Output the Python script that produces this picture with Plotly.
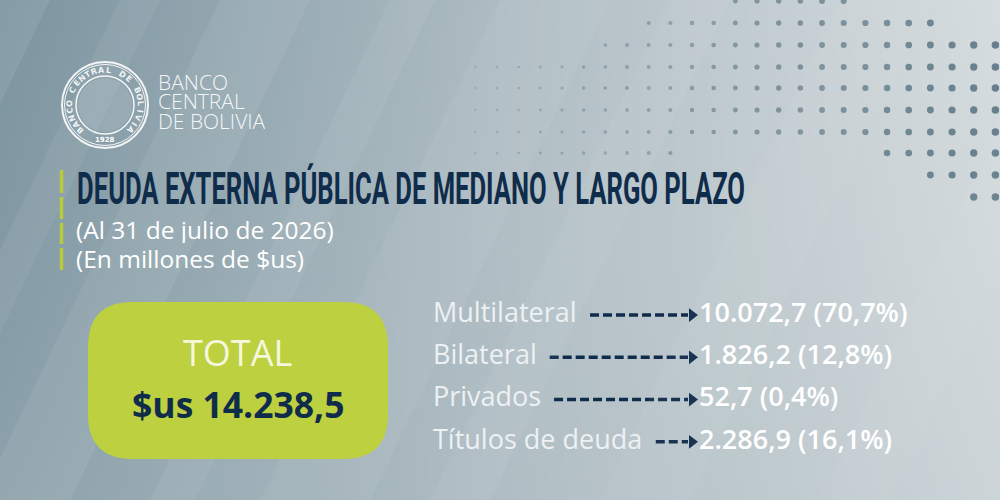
import math
import plotly.graph_objects as go

# ---- datos: deuda externa pública de mediano y largo plazo (millones de $us) ----
categorias = ["Multilateral", "Bilateral", "Privados", "Títulos de deuda"]
montos = [10072.7, 1826.2, 52.7, 2286.9]
participacion = [70.7, 12.8, 0.4, 16.1]
total = 14238.5

titulo = "DEUDA EXTERNA PÚBLICA DE MEDIANO Y LARGO PLAZO"
subtitulos = ["(Al 31 de julio de 2026)", "(En millones de $us)"]
banco = ["BANCO", "CENTRAL", "DE BOLIVIA"]
sello = "BANCO CENTRAL DE BOLIVIA"
sello_anio = "1928"

NAVY = "#0f2c4b"
LIME = "#bdd03f"
FONT = "Open Sans"
LIST_SIZE = 27
TITLE_W = 668  # px the condensed title should span

# rough Open Sans advance widths (em) to know where each label ends
OPEN_SANS_EM = {"M": .903, "B": .632, "P": .586, "T": .556, "u": .613, "l": .258,
                "t": .353, "i": .258, "í": .258, "a": .556, "e": .561, "r": .408,
                "v": .500, "d": .613, "o": .602, "s": .479, " ": .260}


def text_px(s, size):
    return sum(OPEN_SANS_EM.get(ch, .56) for ch in s) * size


def fmt_es(v, dec=1):
    # 10072.7 -> "10.072,7"
    s = f"{v:,.{dec}f}"
    return s.replace(",", "X").replace(".", ",").replace("X", ".")


fig = go.Figure()

# background: soft grey-blue gradient, darker on the left
fig.add_trace(go.Heatmap(
    x=[0, 500, 1000], y=[0, 250, 500],
    z=[[0.02, 0.55, 0.97],
       [0.10, 0.58, 0.92],
       [0.20, 0.57, 0.86]],
    zsmooth="best", showscale=False, hoverinfo="skip",
    colorscale=[[0, "#7a939e"], [0.5, "#a9b8bf"], [1, "#d9dfe1"]],
    zmin=0, zmax=1,
))

# dotted pattern top right (decoration)
dot_rows = [(1, 8, 13), (23, 4, 17), (45, 2, 20), (67, -4, 20), (88, -4, 20),
            (110, -4, 20), (132, -4, 20), (153, -4, 5), (153, 15, 20),
            (175, 17, 20), (197, 19, 20)]
dx, dy, ds, dc = [], [], [], []
for yy, c0, c1 in dot_rows:
    for c in range(c0, c1 + 1):
        xx = 562 + 21.67 * c
        t = min(max((xx - 470) / 520, 0), 1)
        dx.append(xx)
        dy.append(yy)
        ds.append(2.2 + 5.3 * t)
        dc.append(f"rgba(40,74,94,{0.25 + 0.65 * t:.2f})")
fig.add_trace(go.Scatter(x=dx, y=dy, mode="markers", hoverinfo="skip",
                         marker=dict(size=ds, color=dc, line=dict(width=0))))

shapes = []

# diagonal light stripes
for x0, w, a in [(-260, 70, 0.08), (-120, 40, 0.06), (-20, 90, 0.07), (150, 45, 0.06),
                 (260, 110, 0.05), (430, 60, 0.05), (600, 90, 0.04), (820, 70, 0.04)]:
    shapes.append(dict(type="path", xref="x", yref="y", line=dict(width=0),
                       fillcolor=f"rgba(255,255,255,{a})",
                       path=f"M {x0},500 L {x0 + w},500 L {x0 + w + 240},0 L {x0 + 240},0 Z"))

# seal of the bank
cx, cy = 105, 105
for r, w in [(43, 2), (40.5, 1), (29, 1.5)]:
    shapes.append(dict(type="circle", xref="x", yref="y", x0=cx - r, x1=cx + r,
                       y0=cy - r, y1=cy + r, line=dict(color="rgba(255,255,255,0.9)", width=w)))
shapes.append(dict(type="circle", xref="x", yref="y", x0=cx - 27, x1=cx + 27,
                   y0=cy - 27, y1=cy + 27, line=dict(width=0),
                   fillcolor="rgba(255,255,255,0.12)"))

# lime accent bar next to the title
for y0, y1 in [(170, 193), (197, 219), (223, 244), (248, 270)]:
    shapes.append(dict(type="line", xref="x", yref="y", x0=61.5, x1=61.5, y0=y0, y1=y1,
                       line=dict(color="#b7cb3d", width=3.5)))

# rounded total box
bx0, bx1, by0, by1, br = 88, 388, 302, 459, 45
shapes.append(dict(
    type="path", xref="x", yref="y", line=dict(width=0), fillcolor=LIME,
    path=(f"M {bx0 + br},{by0} L {bx1 - br},{by0} Q {bx1},{by0} {bx1},{by0 + br} "
          f"L {bx1},{by1 - br} Q {bx1},{by1} {bx1 - br},{by1} "
          f"L {bx0 + br},{by1} Q {bx0},{by1} {bx0},{by1 - br} "
          f"L {bx0},{by0 + br} Q {bx0},{by0} {bx0 + br},{by0} Z"),
))

annotations = []

# ring text around the seal
n = len(sello)
for i, ch in enumerate(sello):
    th = math.radians(225 - i * (270 / (n - 1)))
    annotations.append(dict(
        x=cx + 35 * math.cos(th), y=cy - 35 * math.sin(th), xref="x", yref="y",
        text=ch, showarrow=False, textangle=90 - math.degrees(th),
        font=dict(family="DejaVu Sans", size=8, color="rgba(255,255,255,0.9)", weight="bold"),
    ))
annotations.append(dict(x=cx, y=cy + 35, xref="x", yref="y", text=sello_anio, showarrow=False,
                        font=dict(family="DejaVu Sans", size=7, color="white", weight="bold")))

# bank name, tight leading -> fixed box height (all caps, nothing gets clipped)
for i, line in enumerate(banco):
    annotations.append(dict(x=156, y=81 + 19.5 * i, xref="x", yref="y", text=line,
                            showarrow=False, xanchor="left", height=19,
                            font=dict(family=FONT, size=21, color="rgba(255,255,255,0.92)",
                                      weight=300)))

annotations.append(dict(x=75, y=189, xref="x", yref="y", text=titulo, showarrow=False,
                        xanchor="left",
                        font=dict(family="Roboto", size=44, color=NAVY, weight="bold")))
for i, s in enumerate(subtitulos):
    annotations.append(dict(x=74, y=229 + 29 * i, xref="x", yref="y", text=s,
                            showarrow=False, xanchor="left", height=28,
                            font=dict(family=FONT, size=24.5, color="white")))

annotations.append(dict(x=237, y=352, xref="x", yref="y", text="TOTAL", showarrow=False,
                        font=dict(family=FONT, size=36, color="#f4f7de")))
annotations.append(dict(x=238, y=404, xref="x", yref="y", text="$us " + fmt_es(total),
                        showarrow=False,
                        font=dict(family=FONT, size=35.5, color=NAVY, weight="bold")))

# ---- breakdown list on its own categorical axis ----
label_x, head_x, value_x = 433, 692, 699
starts = [label_x + 2 + text_px(c, LIST_SIZE) + 11 for c in categorias]
ax_x, ax_y = [], []
for c, s in zip(categorias, starts):
    ax_x += [s, head_x - 4, None]
    ax_y += [c, c, None]

fig.add_trace(go.Scatter(
    x=[label_x] * len(categorias), y=categorias, yaxis="y2", mode="text",
    text=categorias, textposition="middle right", hoverinfo="skip",
    textfont=dict(family=FONT, size=LIST_SIZE, color="#edf1f3"),
))
fig.add_trace(go.Scatter(
    x=ax_x, y=ax_y, yaxis="y2", mode="lines", hoverinfo="skip",
    line=dict(color=NAVY, width=3.5, dash="9px,4px"),
))
fig.add_trace(go.Scatter(
    x=[head_x] * len(categorias), y=categorias, yaxis="y2", mode="markers",
    hoverinfo="skip", marker=dict(symbol="triangle-right", size=12, color=NAVY),
))
fig.add_trace(go.Scatter(
    x=[value_x] * len(categorias), y=categorias, yaxis="y2", mode="text",
    text=[f"{fmt_es(m)} ({fmt_es(p)}%)" for m, p in zip(montos, participacion)],
    textposition="middle right", hoverinfo="skip",
    textfont=dict(family=FONT, size=LIST_SIZE, color="white", weight=600),
))

fig.update_layout(
    width=1000, height=500, margin=dict(l=0, r=0, t=0, b=0),
    paper_bgcolor="#a9b8bf", plot_bgcolor="rgba(0,0,0,0)", showlegend=False,
    xaxis=dict(range=[0, 1000], visible=False, fixedrange=True),
    yaxis=dict(range=[500, 0], visible=False, fixedrange=True),
    yaxis2=dict(domain=[0.074, 0.412], anchor="x", type="category",
                categoryorder="array", categoryarray=categorias,
                range=[3.5, -0.5], visible=False, fixedrange=True),
    shapes=shapes, annotations=annotations,
)

# page without body margin; squeeze the title into a condensed look
post = """
document.body.style.margin = '0';
var t = Array.from(document.querySelectorAll('text.annotation-text'))
    .find(function (e) { return e.textContent.indexOf('DEUDA') === 0; });
if (t) {
    var w = t.getBBox().width;
    t.style.transformBox = 'fill-box';
    t.style.transformOrigin = 'left center';
    t.style.transform = 'scaleX(' + (TITLE_W / w) + ')';
}
""".replace("TITLE_W", str(TITLE_W))

fig.write_html("out.html", post_script=post, config={"displayModeBar": False})
